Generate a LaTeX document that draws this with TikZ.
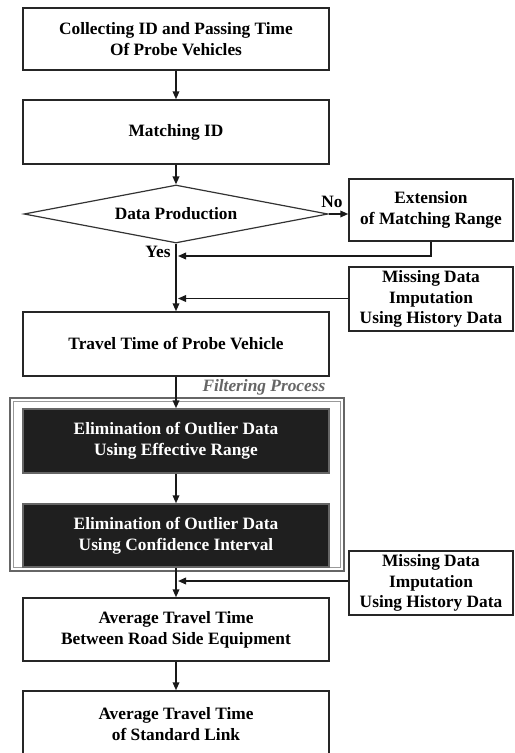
\documentclass[tikz,border=0pt]{standalone}
\usepackage{fontspec}
\setmainfont{Liberation Serif}
\usetikzlibrary{shapes.geometric,arrows.meta}
\begin{document}
\begin{tikzpicture}[x=0.75pt,y=-0.75pt,
  every node/.style={font=\fontsize{13}{15.6}\selectfont\bfseries, align=center},
  stepbox/.style={draw=black!85, line width=1.1pt, fill=white,
    minimum width=306*0.75pt, minimum height=63*0.75pt, inner sep=0pt},
  sidebox/.style={draw=black!85, line width=1.1pt, fill=white,
    minimum width=164*0.75pt, minimum height=63*0.75pt, inner sep=0pt},
  darkbox/.style={stepbox, draw=black!60, fill=black!88, text=white},
  decision/.style={diamond, draw=black!80, line width=0.9pt, aspect=5, inner sep=0pt,
    minimum width=304*0.75pt, minimum height=58*0.75pt},
  flow/.style={draw=black!90, line width=1.1pt, -{Triangle[length=6pt,width=5pt]}},
  tag/.style={inner sep=1pt}]
\useasboundingbox (0,0) rectangle (514,753);

% filtering container (gray double frame)
\draw[black!60, line width=1.3pt] (10,398) rectangle (344,571);
\draw[black!40, line width=0.6pt] (13.5,401.5) rectangle (340.5,567.5);
\node[anchor=east, font=\fontsize{13}{15.6}\selectfont\bfseries\itshape, text=black!60]
  (ftag) at (330,387) {Filtering Process};

% main column
\node[stepbox, minimum height=62*0.75pt] (c1) at (176,39) {Collecting ID and Passing Time\\Of Probe Vehicles};
\node[stepbox, minimum height=64*0.75pt] (c2) at (176,132) {Matching ID};
\node[decision] (dia) at (176,214) {Data Production};
\node[stepbox, minimum height=64*0.75pt] (c3) at (176,344) {Travel Time of Probe Vehicle};
\node[darkbox, minimum height=64*0.75pt] (b1) at (176,441) {Elimination of Outlier Data\\Using Effective Range};
\node[darkbox] (b2) at (176,535.5) {Elimination of Outlier Data\\Using Confidence Interval};
\node[stepbox] (c4) at (176,629.5) {Average Travel Time\\Between Road Side Equipment};
\node[stepbox, minimum height=66*0.75pt] (c5) at (176,724) {Average Travel Time\\of Standard Link};

% side boxes
\node[sidebox, minimum height=62*0.75pt] (ext) at (431,210) {Extension\\of Matching Range};
\node[sidebox, minimum height=64*0.75pt] (m1) at (431,299) {Missing Data\\Imputation\\Using History Data};
\node[sidebox, minimum height=64*0.75pt] (m2) at (431,583) {Missing Data\\Imputation\\Using History Data};

% junction points on the main line
\coordinate (j1) at (178,256);
\coordinate (j2) at (178,298.5);
\coordinate (j3) at (178,581);

% connectors
\draw[flow] (c1) -- (c2);
\draw[flow] (c2) -- (dia);
\draw[flow] (dia.east) -- (dia.east -| ext.west);
\node[tag] (no) at (332,202) {No};
\node[tag] (yes) at (158,252) {Yes};
\draw[flow] (ext.south) |- (j1);
\draw[flow] (dia) -- (c3);
\draw[flow] (m1.west |- j2) -- (j2);
\draw[flow] (c3) -- (b1);
\draw[flow] (b1) -- (b2);
\draw[flow] (b2) -- (c4);
\draw[flow] (m2.west |- j3) -- (j3);
\draw[flow] (c4) -- (c5);
\end{tikzpicture}
\end{document}
